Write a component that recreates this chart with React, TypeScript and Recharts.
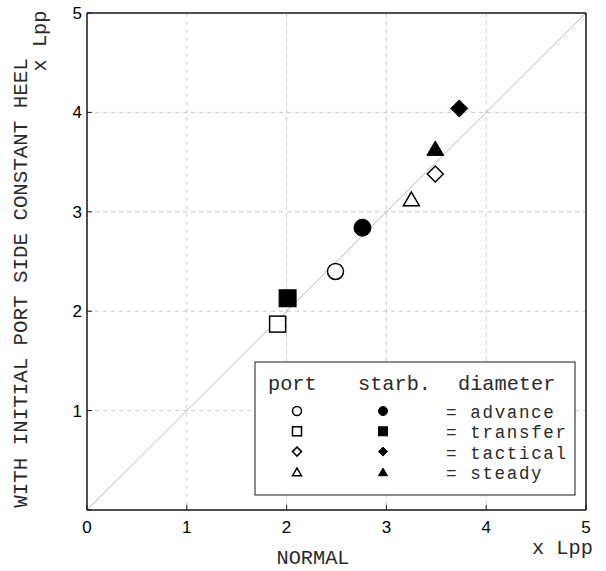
import React from 'react';
import {
  ScatterChart,
  Scatter,
  XAxis,
  YAxis,
  CartesianGrid,
  ReferenceLine,
} from 'recharts';

// diameter kinds, port / starboard results (x = normal, y = with heel), in Lpp
const kinds = ['advance', 'transfer', 'tactical', 'steady'];
const shapes = ['circle', 'square', 'diamond', 'triangle'];
const portNormal = [2.49, 1.91, 3.49, 3.25];
const portHeel = [2.40, 1.87, 3.38, 3.13];
const starbNormal = [2.76, 2.01, 3.73, 3.49];
const starbHeel = [2.84, 2.13, 4.04, 3.64];
const ticks = [0, 1, 2, 3, 4, 5];

const W = 606;
const H = 571;
const MONO = '"Liberation Mono", "Courier New", monospace';
const SANS = '"Liberation Sans", Arial, sans-serif';
const INK = '#1a1a1a';
const TXT = '#2a2a2a';

const Marker = ({ cx, cy, kind, filled, s }: any) => {
  const fill = filled ? '#000' : '#fff';
  const sw = filled ? 1 : 1.5;
  const h = s / 2;
  if (kind === 'circle') return <circle cx={cx} cy={cy} r={h} fill={fill} stroke="#000" strokeWidth={sw} />;
  if (kind === 'square') return <rect x={cx - h} y={cy - h} width={s} height={s} fill={fill} stroke="#000" strokeWidth={sw} />;
  if (kind === 'diamond')
    return <polygon points={`${cx},${cy - h} ${cx + h},${cy} ${cx},${cy + h} ${cx - h},${cy}`} fill={fill} stroke="#000" strokeWidth={sw} />;
  const th = s * 0.85;
  return (
    <polygon
      points={`${cx},${cy - th / 2} ${cx + h},${cy + th / 2} ${cx - h},${cy + th / 2}`}
      fill={fill}
      stroke="#000"
      strokeWidth={sw}
    />
  );
};

const BottomTick = ({ x, y, payload }: any) => (
  <g>
    <line x1={x} y1={y} x2={x} y2={y - 5} stroke={INK} strokeWidth={1} />
    <text x={x} y={y + 23} textAnchor="middle" fontFamily={SANS} fontSize={17} fill="#000">
      {payload.value}
    </text>
  </g>
);
const TopTick = ({ x, y }: any) => <line x1={x} y1={y} x2={x} y2={y + 5} stroke={INK} strokeWidth={1} />;
const LeftTick = ({ x, y, payload }: any) => (
  <g>
    <line x1={x} y1={y} x2={x + 5} y2={y} stroke={INK} strokeWidth={1} />
    {payload.value !== 0 && (
      <text x={x - 5} y={y + 6} textAnchor="end" fontFamily={SANS} fontSize={17} fill="#000">
        {payload.value}
      </text>
    )}
  </g>
);
const RightTick = ({ x, y }: any) => <line x1={x} y1={y} x2={x - 5} y2={y} stroke={INK} strokeWidth={1} />;

export default function App() {
  const axisLine = { stroke: INK, strokeWidth: 1.5 };
  const rowY = (i: number) => 418 + i * 20.3;
  return (
    <div style={{ position: 'absolute', left: 0, top: 0, width: W, height: H, background: '#fff' }}>
      <ScatterChart width={W} height={H} margin={{ top: 3, right: 10, bottom: 31, left: 0 }}>
        <CartesianGrid stroke="#c8c8c8" strokeDasharray="4 4" />
        <XAxis
          type="number"
          dataKey="x"
          domain={[0, 5]}
          ticks={ticks}
          tickSize={0}
          tickMargin={0}
          tick={<BottomTick />}
          tickLine={false}
          axisLine={axisLine}
          height={30}
          allowDataOverflow
        />
        <XAxis
          xAxisId="top"
          orientation="top"
          type="number"
          domain={[0, 5]}
          ticks={ticks}
          tickSize={0}
          tickMargin={0}
          tick={<TopTick />}
          tickLine={false}
          axisLine={axisLine}
          height={10}
        />
        <YAxis
          type="number"
          dataKey="y"
          domain={[0, 5]}
          ticks={ticks}
          tickSize={0}
          tickMargin={0}
          tick={<LeftTick />}
          tickLine={false}
          axisLine={axisLine}
          width={87}
          allowDataOverflow
        />
        <YAxis
          yAxisId="right"
          orientation="right"
          type="number"
          domain={[0, 5]}
          ticks={ticks}
          tickSize={0}
          tickMargin={0}
          tick={<RightTick />}
          tickLine={false}
          axisLine={axisLine}
          width={10}
        />
        <ReferenceLine
          segment={[{ x: 0, y: 0 }, { x: 5, y: 5 }]}
          stroke="#b8b8b8"
          strokeWidth={1}
          ifOverflow="visible"
        />
        {kinds.map((k, i) => (
          <Scatter
            key={'p' + k}
            name={'port ' + k}
            data={[{ x: portNormal[i], y: portHeel[i] }]}
            isAnimationActive={false}
            shape={(p: any) => <Marker cx={p.cx} cy={p.cy} kind={shapes[i]} filled={false} s={16} />}
          />
        ))}
        {kinds.map((k, i) => (
          <Scatter
            key={'s' + k}
            name={'starb ' + k}
            data={[{ x: starbNormal[i], y: starbHeel[i] }]}
            isAnimationActive={false}
            shape={(p: any) => <Marker cx={p.cx} cy={p.cy} kind={shapes[i]} filled s={17} />}
          />
        ))}
      </ScatterChart>

      <svg width={W} height={H} style={{ position: 'absolute', left: 0, top: 0, pointerEvents: 'none' }}>
        {/* axis titles */}
        <text x={313} y={564} textAnchor="middle" fontFamily={MONO} fontSize={20.3} fill={TXT}>
          NORMAL
        </text>
        <text x={532} y={554} fontFamily={MONO} fontSize={20.3} fill={TXT}>
          x Lpp
        </text>
        <text
          x={27}
          y={283}
          textAnchor="middle"
          fontFamily={MONO}
          fontSize={20.8}
          fill={TXT}
          transform="rotate(-90 27 283)"
        >
          WITH INITIAL PORT SIDE CONSTANT HEEL
        </text>
        <text x={46} y={41} textAnchor="middle" fontFamily={MONO} fontSize={20.3} fill={TXT} transform="rotate(-90 46 41)">
          x Lpp
        </text>

        {/* legend */}
        <rect x={255} y={362} width={320} height={133} fill="#fff" stroke={INK} strokeWidth={1} />
        <text x={268} y={390} fontFamily={MONO} fontSize={20.3} fill={TXT}>port</text>
        <text x={358} y={390} fontFamily={MONO} fontSize={20.3} fill={TXT}>starb.</text>
        <text x={458} y={390} fontFamily={MONO} fontSize={20.3} fill={TXT}>diameter</text>
        {kinds.map((k, i) => {
          const label = '= ' + k;
          return (
            <g key={k}>
              <Marker cx={297} cy={rowY(i) - 7} kind={shapes[i]} filled={false} s={9} />
              <Marker cx={383} cy={rowY(i) - 7} kind={shapes[i]} filled s={9} />
              <text
                x={446}
                y={rowY(i)}
                fontFamily={MONO}
                fontSize={17.5}
                fill={TXT}
                textLength={label.length * 12.2 - 2}
                lengthAdjust="spacing"
              >
                {label}
              </text>
            </g>
          );
        })}
      </svg>
    </div>
  );
}
